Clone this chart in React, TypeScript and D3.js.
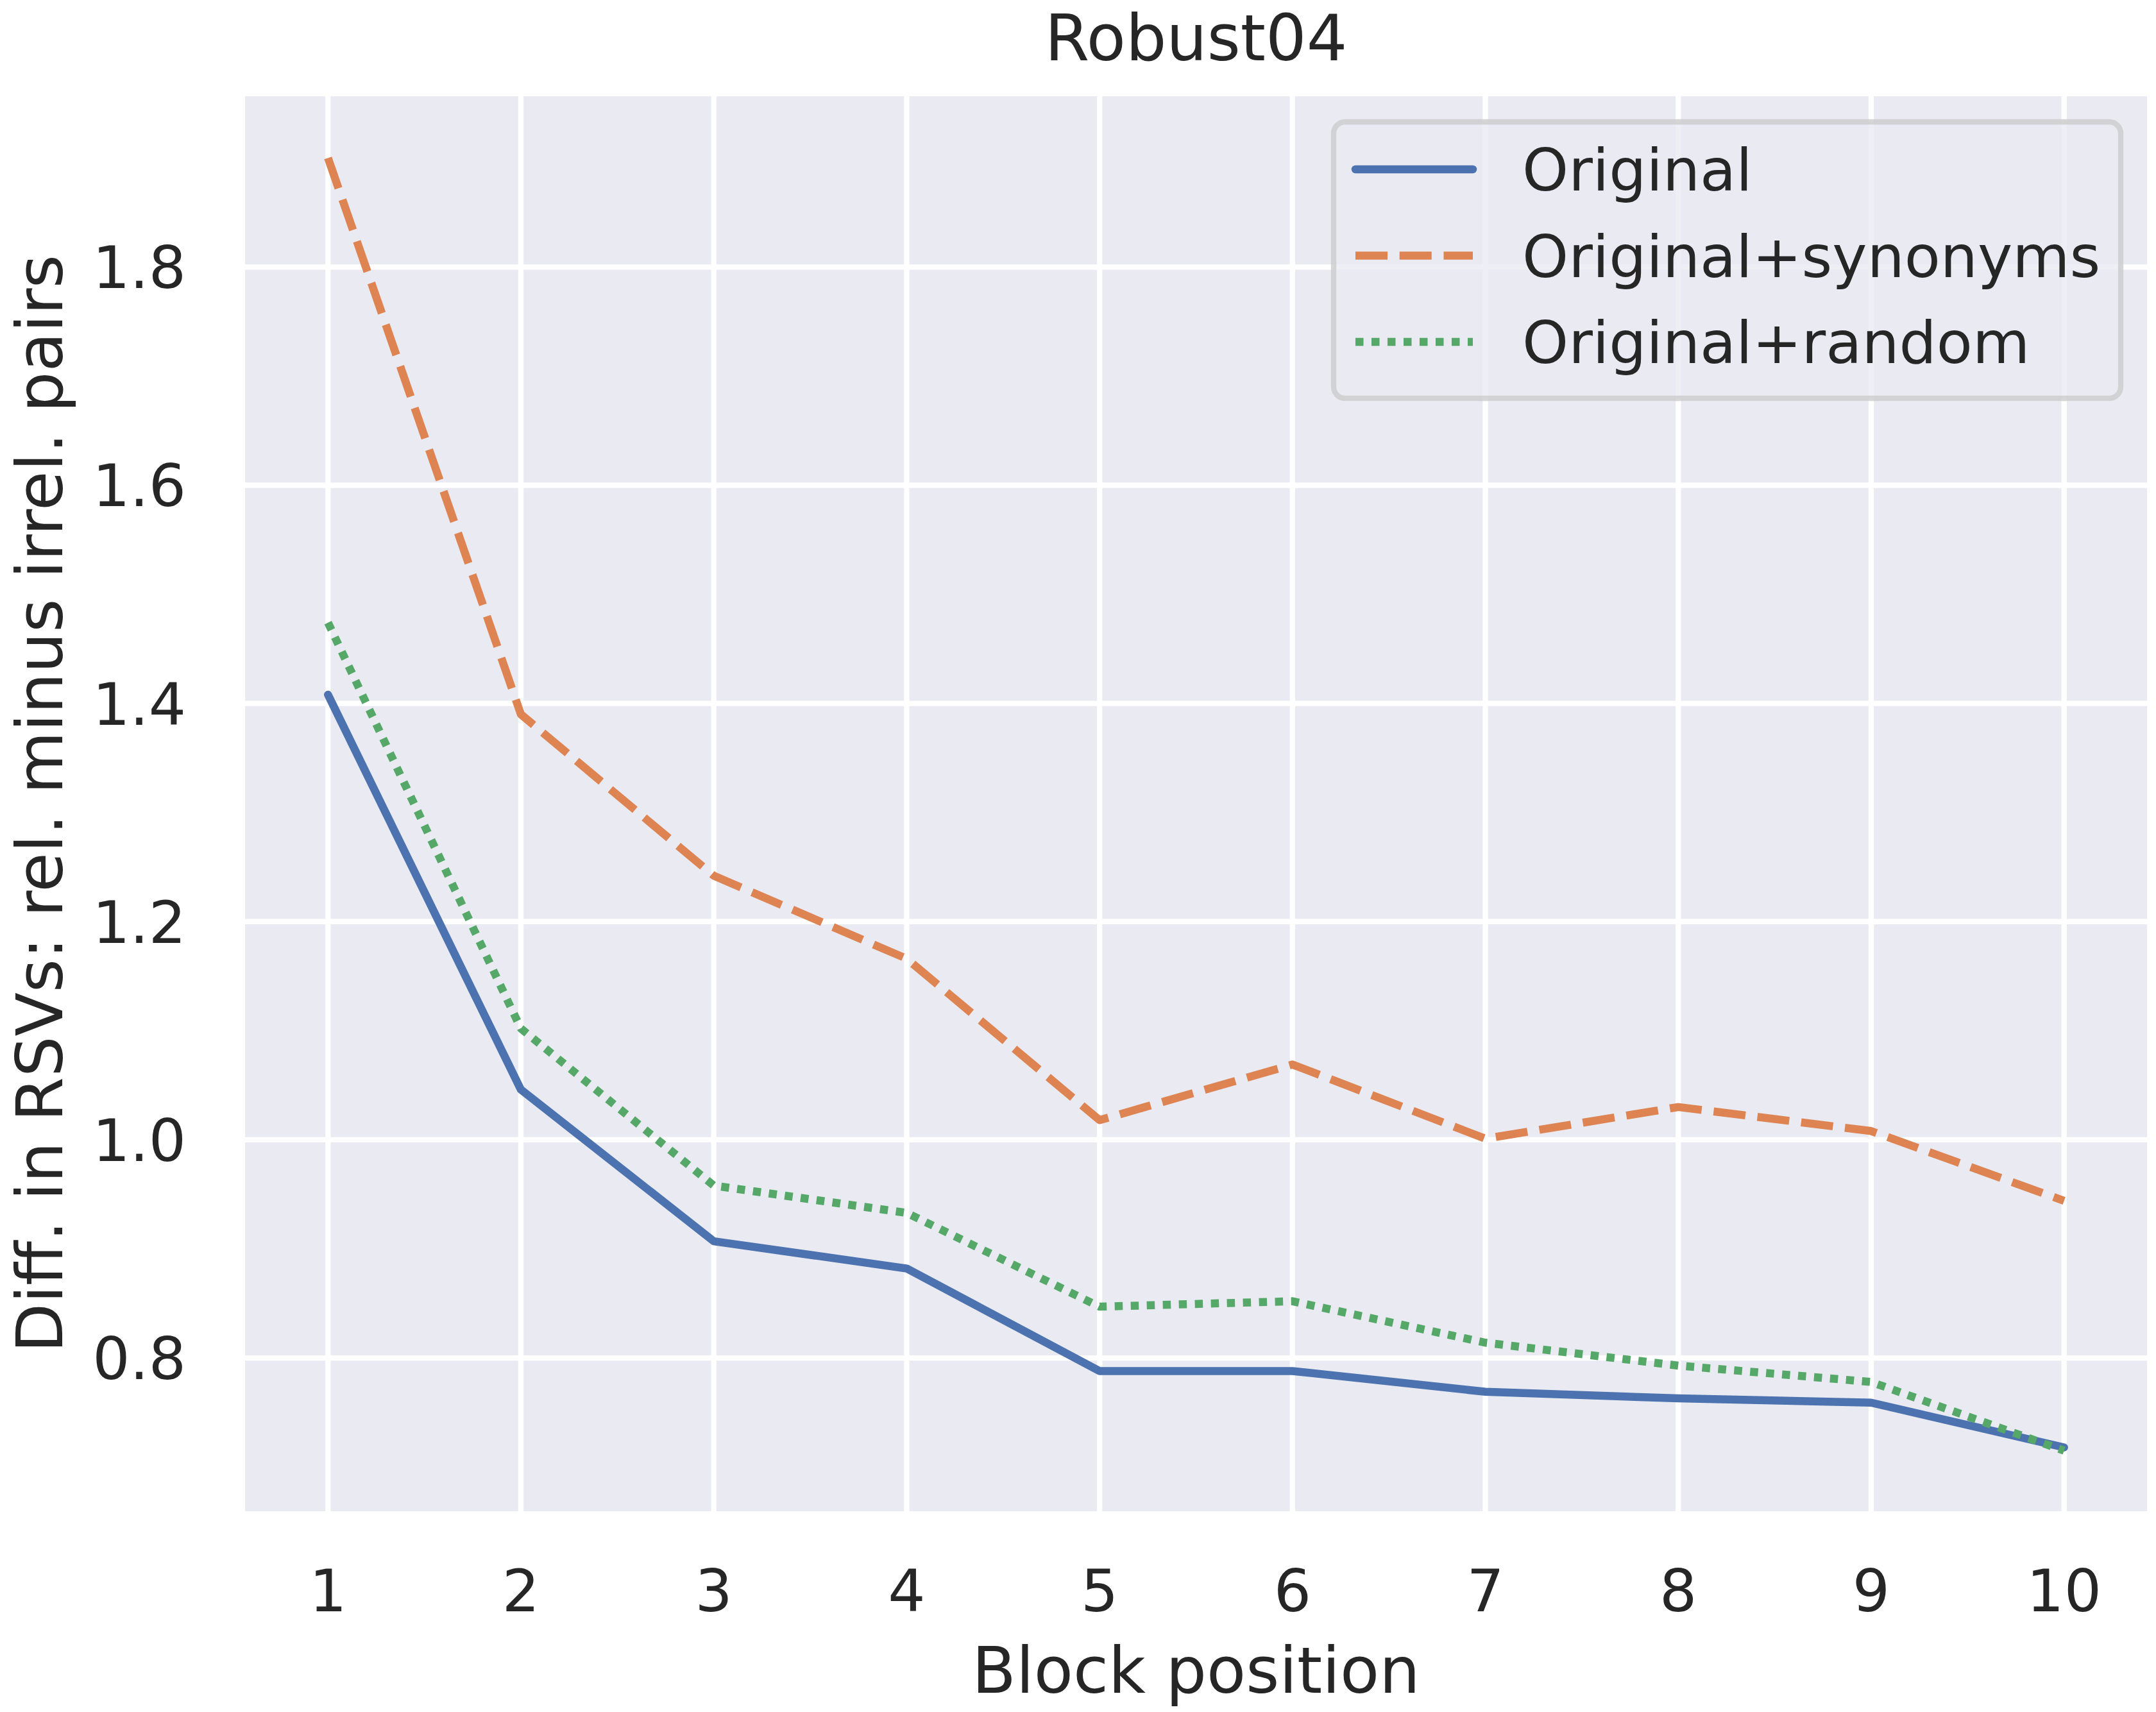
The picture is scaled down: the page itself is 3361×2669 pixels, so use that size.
import * as d3 from "d3";

const positions = [1, 2, 3, 4, 5, 6, 7, 8, 9, 10];
const original = [1.408, 1.046, 0.907, 0.882, 0.788, 0.788, 0.769, 0.763, 0.759, 0.718];
const synonyms = [1.900, 1.390, 1.242, 1.166, 1.018, 1.069, 1.001, 1.030, 1.008, 0.944];
const randomQ = [1.474, 1.102, 0.958, 0.933, 0.847, 0.852, 0.814, 0.793, 0.778, 0.715];
const yTicks = [0.8, 1.0, 1.2, 1.4, 1.6, 1.8];

const series = [
  { name: "Original", values: original, color: "#4C72B0", dash: "none", cap: "round" },
  { name: "Original+synonyms", values: synonyms, color: "#DD8452", dash: "50 18.75", cap: "butt" },
  { name: "Original+random", values: randomQ, color: "#55A868", dash: "12.5 12.5", cap: "butt" },
];

const W = 3361;
const H = 2669;
const plot = { left: 382, right: 3347, top: 150, bottom: 2356 };
const FONT = "DejaVu Sans, Liberation Sans, sans-serif";
const TXT = "#262626";

export default function App() {
  const x = d3.scaleLinear().domain([0.57, 10.43]).range([plot.left, plot.right]);
  const y = d3.scaleLinear().domain([0.6595, 1.9566]).range([plot.bottom, plot.top]);

  const line = d3.line<number>()
    .x((_, i) => x(positions[i]))
    .y((d) => y(d));

  const cx = (plot.left + plot.right) / 2;
  const cy = (plot.top + plot.bottom) / 2;

  // legend box (stroke centre), rows
  const lg = { x0: 2079, x1: 3306, y0: 190, y1: 621, row0: 264, rowGap: 134.5 };

  return (
    <svg width={W} height={H} viewBox={`0 0 ${W} ${H}`}
      style={{ position: "absolute", left: 0, top: 0, background: "#fff" }}
      fontFamily={FONT}>
      <rect x={plot.left} y={plot.top} width={plot.right - plot.left} height={plot.bottom - plot.top} fill="#EAEAF2" />
      {/* grid */}
      {positions.map((p) => (
        <line key={"gx" + p} x1={x(p)} x2={x(p)} y1={plot.top} y2={plot.bottom} stroke="#fff" strokeWidth={8.33} />
      ))}
      {yTicks.map((t) => (
        <line key={"gy" + t} x1={plot.left} x2={plot.right} y1={y(t)} y2={y(t)} stroke="#fff" strokeWidth={8.33} />
      ))}
      {/* series */}
      {series.map((s) => (
        <path key={s.name} d={line(s.values) ?? ""} fill="none" stroke={s.color} strokeWidth={12.5}
          strokeDasharray={s.dash} strokeLinecap={s.cap as any} strokeLinejoin="round" />
      ))}
      {/* tick labels */}
      {positions.map((p) => (
        <text key={"tx" + p} x={x(p)} y={2512} textAnchor="middle" fontSize={91.7} fill={TXT}>{p}</text>
      ))}
      {yTicks.map((t) => (
        <text key={"ty" + t} x={290} y={y(t) + 33} textAnchor="end" fontSize={91.7} fill={TXT}>{t.toFixed(1)}</text>
      ))}
      {/* labels */}
      <text x={cx} y={2639} textAnchor="middle" fontSize={100} fill={TXT}>Block position</text>
      <text transform={`translate(97,${cy}) rotate(-90)`} textAnchor="middle" fontSize={100} fill={TXT}>
        Diff. in RSVs: rel. minus irrel. pairs
      </text>
      <text x={cx} y={94} textAnchor="middle" fontSize={100} fill={TXT}>Robust04</text>
      {/* legend */}
      <g>
        <rect x={lg.x0} y={lg.y0} width={lg.x1 - lg.x0} height={lg.y1 - lg.y0} rx={18} ry={18}
          fill="#EAEAF2" fillOpacity={0.8} stroke="#CCCCCC" strokeOpacity={0.8} strokeWidth={8.33} />
        {series.map((s, i) => {
          const ry = lg.row0 + i * lg.rowGap;
          return (
            <g key={"lg" + s.name}>
              <line x1={2113} x2={2296} y1={ry} y2={ry} stroke={s.color} strokeWidth={12.5}
                strokeDasharray={s.dash} strokeLinecap={s.cap as any} />
              <text x={2373} y={ry + 33} fontSize={91.7} fill={TXT}>{s.name}</text>
            </g>
          );
        })}
      </g>
    </svg>
  );
}
